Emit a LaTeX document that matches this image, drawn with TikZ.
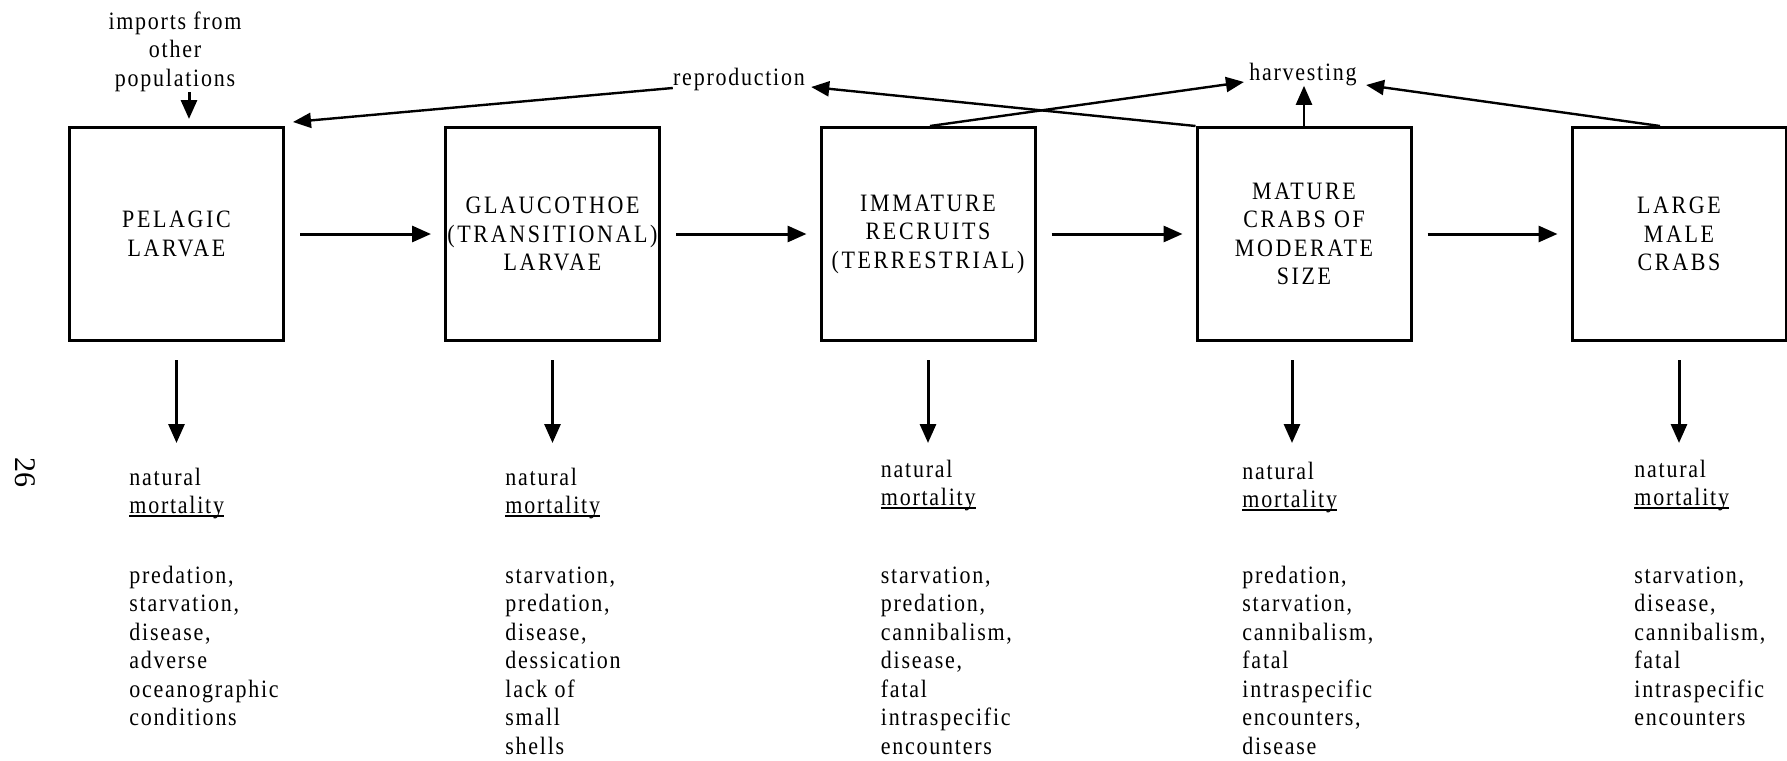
\documentclass[tikz,border=0pt]{standalone}
\usepackage{fontspec}
\setmainfont{Liberation Serif}
\newfontfamily\rfnt{Liberation Serif}[FakeStretch=0.88,LetterSpace=7]
\newfontfamily\rfcap{Liberation Serif}[FakeStretch=0.88,LetterSpace=10.5]
\usetikzlibrary{arrows.meta}
\newcommand\lowtxt{\rfnt\fontsize{12.5pt}{14.25pt}\selectfont}
\newcommand\captxt{\rfcap\fontsize{12.5pt}{14.25pt}\selectfont}
\newcommand\ulmort[1]{\setbox0\hbox{#1}\rlap{\rule[-1.5pt]{\wd0}{1pt}}\box0}
\begin{document}
\begin{tikzpicture}[x=0.5pt,y=-0.5pt,
  box/.style={draw, line width=1.5pt, minimum width=107pt, minimum height=106.5pt,
    inner sep=0pt, align=center, font=\captxt},
  arr/.style={line width=1.5pt, -{Triangle[length=9.5pt,width=8pt]}},
  hz/.style={arr, shorten <=7.5pt, shorten >=6.5pt},
  dn/.style={arr, shorten <=9pt},
  slant/.style={line width=1.2pt, -{Triangle[length=9pt,width=7.5pt]}},
  lbl/.style={inner sep=0pt, font=\lowtxt},
  col/.style={inner sep=0pt, anchor=north west, align=left, font=\lowtxt}]
\useasboundingbox (0,0) rectangle (1787,760);

% stage boxes
\node[box] (b1) at (176.5,234) {PELAGIC\\LARVAE};
\node[box] (b2) at (552.5,234) {GLAUCOTHOE\\(TRANSITIONAL)\\LARVAE};
\node[box] (b3) at (928,234) {IMMATURE\\RECRUITS\\(TERRESTRIAL)};
\node[box] (b4) at (1304,234) {MATURE\\CRABS OF\\MODERATE\\SIZE};
\node[box] (b5) at (1679,234) {LARGE\\MALE\\CRABS};

% transitions
\draw[hz] (b1) -- (b2);
\draw[hz] (b2) -- (b3);
\draw[hz] (b3) -- (b4);
\draw[hz] (b4) -- (b5);

% natural mortality texts
\node[col] (m1) at (129,465) {\strut natural\\\ulmort{mortality}};
\node[col] (m2) at (505,465) {\strut natural\\\ulmort{mortality}};
\node[col] (m3) at (880.5,457) {\strut natural\\\ulmort{mortality}};
\node[col] (m4) at (1242,459) {\strut natural\\\ulmort{mortality}};
\node[col] (m5) at (1634,457) {\strut natural\\\ulmort{mortality}};

\node[col] (l1) at (129,563) {\strut predation,\\starvation,\\disease,\\adverse\\oceanographic\\conditions};
\node[col] (l2) at (505,563) {\strut starvation,\\predation,\\disease,\\dessication\\lack of\\small\\shells};
\node[col] (l3) at (880.5,563) {\strut starvation,\\predation,\\cannibalism,\\disease,\\fatal\\intraspecific\\encounters};
\node[col] (l4) at (1242,563) {\strut predation,\\starvation,\\cannibalism,\\fatal\\intraspecific\\encounters,\\disease};
\node[col] (l5) at (1634,563) {\strut starvation,\\disease,\\cannibalism,\\fatal\\intraspecific\\encounters};

% mortality arrows
\draw[dn] (b1.south) -- ([yshift=-50.5pt]b1.south);
\draw[dn] (b2.south) -- ([yshift=-50.5pt]b2.south);
\draw[dn] (b3.south) -- ([yshift=-50.5pt]b3.south);
\draw[dn] ([xshift=-6pt]b4.south) -- ([xshift=-6pt,yshift=-50.5pt]b4.south);
\draw[dn] (b5.south) -- ([yshift=-50.5pt]b5.south);

% imports
\node[lbl, align=center, anchor=north] (imp) at (175,9) {\strut imports from\\other\\populations};
\draw[arr, shorten >=3.5pt] ([xshift=7pt]imp.south) -- ([xshift=7pt]imp.south |- b1.north);

% reproduction
\node[lbl, anchor=base] (rep) at (739,85) {reproduction};
\draw[slant] (b4.north west) -- ([xshift=3pt,yshift=-1pt]rep.base east);
\draw[slant] ([yshift=-1.5pt]rep.base west) -- ([xshift=4pt,yshift=2pt]b1.north east);

% harvesting
\node[lbl, anchor=base] (harv) at (1303,80) {harvesting};
\draw[slant] ([xshift=1pt]b3.north) -- ([xshift=-2.5pt,yshift=-1pt]harv.base west);
\draw[arr, line width=1.2pt] (b4.north) -- (b4.north |- harv.south);
\draw[slant] ([xshift=-9.5pt]b5.north) -- ([xshift=4.5pt,yshift=-2.5pt]harv.base east);

% page number
\node[inner sep=0pt, rotate=-90, font=\fontsize{15pt}{18pt}\selectfont] (pg) at (25,472) {26};
\end{tikzpicture}
\end{document}
